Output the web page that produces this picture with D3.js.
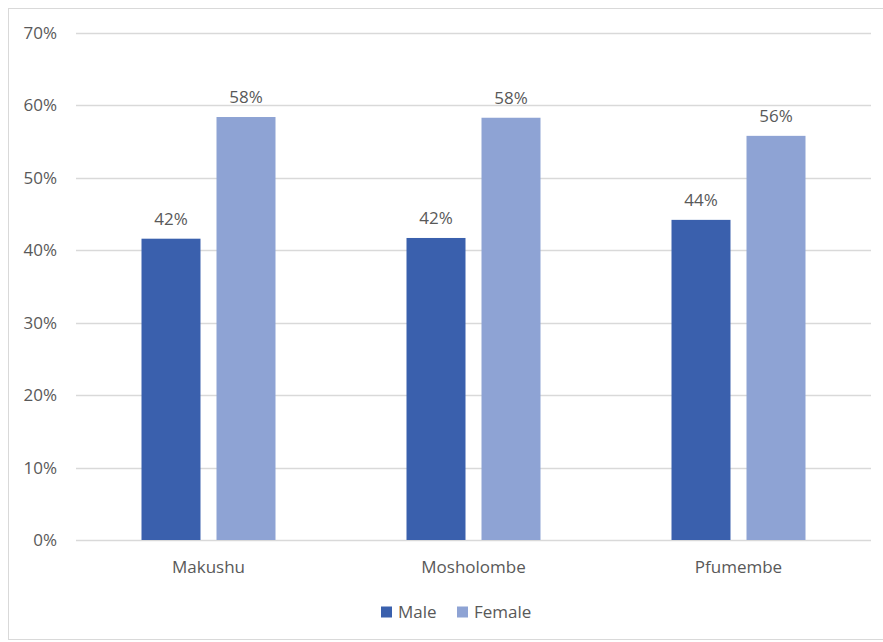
<!DOCTYPE html>
<html>
<head>
<meta charset="utf-8">
<script src="https://cdn.jsdelivr.net/npm/d3@7"></script>
<style>
  html, body { margin: 0; padding: 0; background: #ffffff; }
  svg { display: block; }
  text { font-family: "Open Sans", Lato, sans-serif; fill: #595959; }
</style>
</head>
<body>
<svg id="chart" width="883" height="642"></svg>
<script>
// Share of respondents by sex in each area
const categories = ["Makushu", "Mosholombe", "Pfumembe"];
const seriesNames = ["Male", "Female"];
const maleValues = [0.416, 0.417, 0.442];
const femaleValues = [0.584, 0.583, 0.558];
const yTicks = [0, 0.1, 0.2, 0.3, 0.4, 0.5, 0.6, 0.7];
const colors = ["#3a60ad", "#8ea3d4"];

const svg = d3.select("#chart");
const margin = { left: 76, right: 12, top: 33, bottom: 102 };
const W = 883, H = 642;
const FONT = 17;

// chart frame
svg.append("rect")
  .attr("x", 8.5).attr("y", 8.5)
  .attr("width", 900).attr("height", 631)
  .attr("fill", "none").attr("stroke", "#d9d9d9").attr("stroke-width", 1);

const x0 = d3.scaleBand()
  .domain(categories)
  .range([margin.left, W - margin.right])
  .paddingInner(0).paddingOuter(0);

const y = d3.scaleLinear()
  .domain([0, 0.7])
  .range([H - margin.bottom, margin.top]);

// gridlines
svg.append("g")
  .selectAll("line")
  .data(yTicks)
  .join("line")
  .attr("x1", margin.left).attr("x2", W - margin.right)
  .attr("y1", d => Math.round(y(d)) + 0.5).attr("y2", d => Math.round(y(d)) + 0.5)
  .attr("stroke", "#d9d9d9").attr("stroke-width", 1.5);

// y axis labels
const yAxis = d3.axisLeft(y).tickValues(yTicks).tickFormat(d3.format(".0%")).tickSize(0).tickPadding(19);
const yg = svg.append("g").attr("transform", `translate(${margin.left},0)`).call(yAxis);
yg.select(".domain").remove();
yg.selectAll("text").attr("font-size", FONT).attr("fill", "#595959").attr("font-family", "'Open Sans', sans-serif");

// x axis labels
const xAxis = d3.axisBottom(x0).tickSize(0).tickPadding(0);
const xg = svg.append("g").attr("transform", `translate(0,${H - margin.bottom})`).call(xAxis);
xg.select(".domain").remove();
xg.selectAll("text")
  .attr("y", 33).attr("dy", null)
  .attr("font-size", FONT).attr("fill", "#595959").attr("font-family", "'Open Sans', sans-serif");

// bars
const barW = 59, gap = 16;
const x1 = d3.scaleBand().domain(seriesNames).range([0, barW * 2 + gap]).paddingInner(gap / (barW + gap)).paddingOuter(0);
const groupOffset = (x0.bandwidth() - (barW * 2 + gap)) / 2;

const rows = categories.map((c, i) => ({ category: c, values: [maleValues[i], femaleValues[i]] }));
const pct = d3.format(".0%");

const groups = svg.append("g").selectAll("g")
  .data(rows)
  .join("g")
  .attr("transform", d => `translate(${x0(d.category) + groupOffset},0)`);

groups.selectAll("rect")
  .data(d => d.values.map((v, j) => ({ name: seriesNames[j], value: v, color: colors[j] })))
  .join("rect")
  .attr("x", d => x1(d.name))
  .attr("width", x1.bandwidth())
  .attr("y", d => y(d.value))
  .attr("height", d => y(0) - y(d.value))
  .attr("fill", d => d.color);

groups.selectAll("text.value")
  .data(d => d.values.map((v, j) => ({ name: seriesNames[j], value: v })))
  .join("text")
  .attr("class", "value")
  .attr("x", d => x1(d.name) + x1.bandwidth() / 2)
  .attr("y", d => y(d.value) - 14)
  .attr("text-anchor", "middle")
  .attr("font-size", FONT)
  .text(d => pct(d.value));

// legend
const legend = svg.append("g").attr("transform", "translate(381,606)");
const items = [{ name: "Male", x: 0, color: colors[0] }, { name: "Female", x: 76, color: colors[1] }];
const li = legend.selectAll("g").data(items).join("g").attr("transform", d => `translate(${d.x},0)`);
li.append("rect").attr("y", 0.5).attr("width", 11).attr("height", 11).attr("fill", d => d.color);
li.append("text").attr("x", 17).attr("y", 11.5).attr("font-size", FONT).text(d => d.name);
</script>
</body>
</html>
